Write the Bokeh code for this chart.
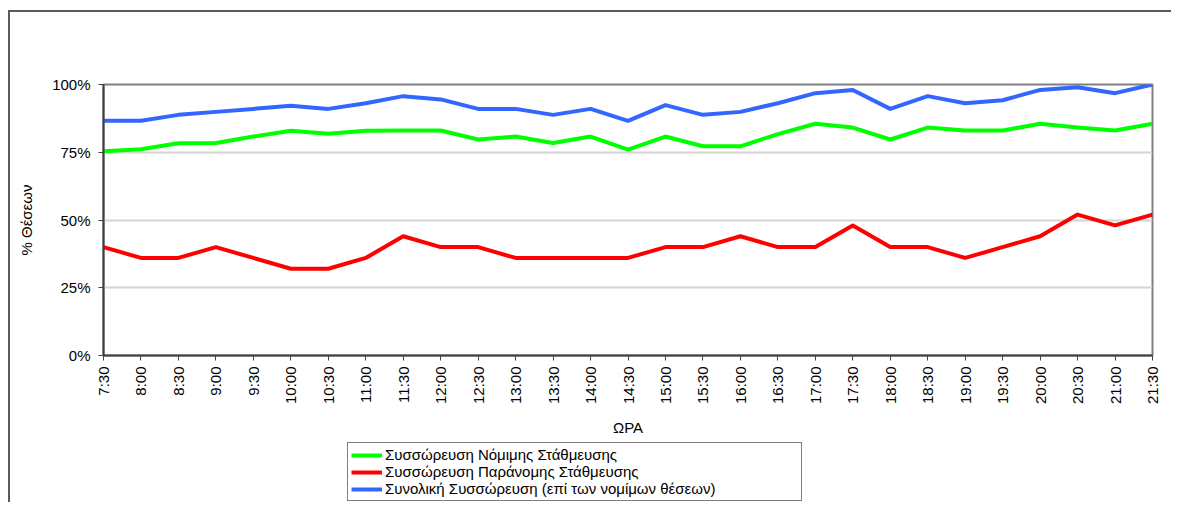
import math
from bokeh.plotting import figure
from bokeh.layouts import column
from bokeh.models import Range1d, FixedTicker, Legend, LegendItem, PrintfTickFormatter
from bokeh.embed import file_html
from bokeh.resources import INLINE

times = ["7:30", "8:00", "8:30", "9:00", "9:30", "10:00", "10:30", "11:00", "11:30",
         "12:00", "12:30", "13:00", "13:30", "14:00", "14:30", "15:00", "15:30", "16:00",
         "16:30", "17:00", "17:30", "18:00", "18:30", "19:00", "19:30", "20:00", "20:30",
         "21:00", "21:30"]

legal = [75.4, 76.1, 78.3, 78.4, 80.8, 82.9, 81.8, 82.9, 83.0, 83.0, 79.7, 80.8, 78.4,
         80.8, 76.0, 80.8, 77.2, 77.2, 81.7, 85.5, 84.1, 79.7, 84.1, 83.0, 83.0, 85.5,
         84.1, 83.0, 85.5]

illegal = [40, 36, 36, 40, 36, 32, 32, 36, 44, 40, 40, 36, 36, 36, 36, 40, 40, 44, 40,
           40, 48, 40, 40, 36, 40, 44, 52, 48, 52]

total = [86.6, 86.6, 88.8, 89.9, 91.0, 92.2, 91.0, 93.1, 95.7, 94.5, 91.0, 91.0, 88.8,
         91.0, 86.6, 92.4, 88.8, 89.9, 93.1, 96.8, 98.0, 91.0, 95.7, 93.1, 94.2, 98.0,
         99.0, 96.8, 100.0]

y_ticks = [0, 25, 50, 75, 100]

names = ["Συσσώρευση Νόμιμης Στάθμευσης",
         "Συσσώρευση Παράνομης Στάθμευσης",
         "Συνολική Συσσώρευση (επί των νομίμων θέσεων)"]
colors = ["#00FF00", "#FF0000", "#3366FF"]

FONT = "Liberation Sans"

x = list(range(len(times)))

p = figure(width=1161, height=428, output_backend="svg", toolbar_location=None,
           x_range=Range1d(0, len(times) - 1), y_range=Range1d(0, 100),
           min_border_left=93, min_border_right=19, min_border_top=72,
           min_border_bottom=85)

p.outline_line_color = "#808080"
p.outline_line_width = 2
p.background_fill_color = "white"
p.border_fill_color = "white"

p.xgrid.visible = False
p.ygrid.grid_line_color = "#d4d4d4"
p.ygrid.grid_line_width = 2
p.ygrid.ticker = FixedTicker(ticks=y_ticks)

for series, col in zip([legal, illegal, total], colors):
    p.line(x, series, line_color=col, line_width=4, line_join="round")

# y axis
p.yaxis.ticker = FixedTicker(ticks=y_ticks)
p.yaxis.formatter = PrintfTickFormatter(format="%d%%")
p.yaxis.minor_tick_line_color = None
p.yaxis.major_tick_in = 0
p.yaxis.major_tick_out = 5
p.yaxis.major_tick_line_color = "#404040"
p.yaxis.axis_line_color = "#404040"
p.yaxis.axis_line_width = 2
p.yaxis.major_label_standoff = 8
p.yaxis.axis_label = "% Θέσεων"
p.yaxis.axis_label_standoff = 14

# x axis
p.xaxis.ticker = FixedTicker(ticks=x)
p.xaxis.major_label_overrides = {i: t for i, t in zip(x, times)}
p.xaxis.major_label_orientation = math.pi / 2
p.xaxis.minor_tick_line_color = None
p.xaxis.major_tick_in = 0
p.xaxis.major_tick_out = 5
p.xaxis.major_tick_line_color = "#404040"
p.xaxis.axis_line_color = "#404040"
p.xaxis.axis_line_width = 2
p.xaxis.major_label_standoff = 6
p.xaxis.axis_label = "ΩΡΑ"
p.xaxis.axis_label_standoff = 12

for ax in [p.xaxis[0], p.yaxis[0]]:
    ax.major_label_text_font = FONT
    ax.major_label_text_font_size = "15px"
    ax.major_label_text_color = "black"
    ax.axis_label_text_font = FONT
    ax.axis_label_text_font_size = "15px"
    ax.axis_label_text_font_style = "normal"
    ax.axis_label_text_color = "black"

# legend figure (key only)
lg = figure(width=1161, height=62, output_backend="svg", toolbar_location=None,
            x_axis_type=None, y_axis_type=None, min_border=0,
            x_range=Range1d(0, 1), y_range=Range1d(0, 1))
lg.outline_line_color = None
lg.xgrid.visible = False
lg.ygrid.visible = False
lg.border_fill_color = "white"
nan = float("nan")
key_renderers = [lg.line([nan], [nan], line_color=col, line_width=4) for col in colors]

legend = Legend(items=[LegendItem(label=n, renderers=[r]) for n, r in zip(names, key_renderers)],
                location=(244, 1), orientation="vertical")
legend.label_text_font = FONT
legend.label_text_font_size = "15px"
legend.label_text_color = "black"
legend.glyph_width = 31
legend.glyph_height = 14
legend.label_height = 14
legend.label_standoff = 3
legend.spacing = -1
legend.padding = 3
legend.margin = 0
legend.label_width = 413
legend.border_line_color = "black"
legend.border_line_width = 1
legend.background_fill_color = "white"
legend.background_fill_alpha = 1
lg.add_layout(legend, "center")

layout = column(p, lg, spacing=0)
layout.styles = {"margin-left": "8px", "margin-top": "10px",
                 "border-top": "2px solid #5a5a5a", "border-left": "2px solid #5a5a5a"}

open("out.html", "w").write(file_html(layout, INLINE))
